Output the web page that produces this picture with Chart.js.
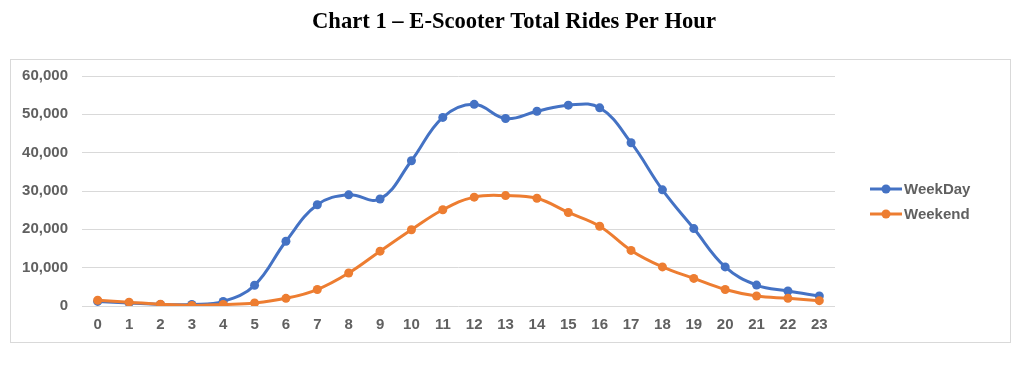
<!DOCTYPE html>
<html>
<head>
<meta charset="utf-8">
<script src="https://cdn.jsdelivr.net/npm/chart.js@4.4.0/dist/chart.umd.min.js"></script>
<style>
  html, body { margin: 0; padding: 0; background: #ffffff; }
  #wrap { position: relative; width: 1024px; height: 368px; }
</style>
</head>
<body>
<div id="wrap"><canvas id="c" width="1024" height="368"></canvas></div>
<script>
const chartTitle = "Chart 1 \u2013 E-Scooter Total Rides Per Hour";
const hours = ["0","1","2","3","4","5","6","7","8","9","10","11","12","13","14","15","16","17","18","19","20","21","22","23"];
const weekDay = [1200, 800, 400, 400, 1200, 5400, 16900, 26400, 29000, 27900, 37900, 49200, 52600, 48900, 50800, 52400, 51700, 42600, 30300, 20200, 10200, 5450, 3900, 2600];
const weekend = [1500, 1000, 450, 150, 400, 800, 2000, 4300, 8600, 14300, 19900, 25100, 28400, 28800, 28100, 24400, 20800, 14500, 10200, 7200, 4300, 2600, 2000, 1400];
const seriesNames = ["WeekDay", "Weekend"];
const seriesColors = ["#4472C4", "#ED7D31"];

const labelFont = { family: "'Liberation Sans', Arial, sans-serif", size: 15, weight: "bold" };
const labelColor = "#606060";

const frameAndTitle = {
  id: "frameAndTitle",
  beforeDraw(chart) {
    const ctx = chart.ctx;
    ctx.save();
    ctx.fillStyle = "#ffffff";
    ctx.fillRect(0, 0, chart.width, chart.height);
    ctx.strokeStyle = "#d9d9d9";
    ctx.lineWidth = 1;
    ctx.strokeRect(10.5, 59.5, 1000, 283);
    ctx.fillStyle = "#000000";
    ctx.font = "bold 22.6px 'Liberation Serif', 'Times New Roman', serif";
    ctx.textAlign = "center";
    ctx.textBaseline = "alphabetic";
    ctx.fillText(chartTitle, 514, 28);
    ctx.restore();
  },
  afterDraw(chart) {
    const ctx = chart.ctx;
    ctx.save();
    const ys = [189, 214];
    chart.data.datasets.forEach((ds, i) => {
      const y = ys[i];
      ctx.strokeStyle = ds.borderColor;
      ctx.lineWidth = 3;
      ctx.beginPath();
      ctx.moveTo(870, y);
      ctx.lineTo(902, y);
      ctx.stroke();
      ctx.fillStyle = ds.borderColor;
      ctx.beginPath();
      ctx.arc(886, y, 4.5, 0, Math.PI * 2);
      ctx.fill();
      ctx.fillStyle = labelColor;
      ctx.font = "bold 15px 'Liberation Sans', Arial, sans-serif";
      ctx.textAlign = "left";
      ctx.textBaseline = "middle";
      ctx.fillText(ds.label, 904, y + 1);
    });
    ctx.restore();
  }
};

new Chart(document.getElementById("c"), {
  type: "line",
  data: {
    labels: hours,
    datasets: [
      { label: seriesNames[0], data: weekDay, borderColor: seriesColors[0], backgroundColor: seriesColors[0],
        borderWidth: 3, pointRadius: 4.5, pointBorderWidth: 0, tension: 0.4, order: 1 },
      { label: seriesNames[1], data: weekend, borderColor: seriesColors[1], backgroundColor: seriesColors[1],
        borderWidth: 3, pointRadius: 4.5, pointBorderWidth: 0, tension: 0.4, order: 0 }
    ]
  },
  options: {
    responsive: false,
    animation: false,
    devicePixelRatio: 1,
    layout: { padding: { left: 10, right: 189, top: 76, bottom: 25 } },
    plugins: {
      legend: { display: false },
      title: { display: false },
      tooltip: { enabled: false }
    },
    scales: {
      x: {
        offset: true,
        grid: { display: false, drawTicks: false },
        border: { display: false },
        ticks: { color: labelColor, font: labelFont, padding: 10, maxRotation: 0, autoSkip: false },
        afterFit(scale) { scale.height = 37; }
      },
      y: {
        min: 0, max: 60000,
        grid: { color: "#d9d9d9", lineWidth: 1, drawTicks: false },
        border: { display: false },
        ticks: { stepSize: 10000, color: labelColor, font: labelFont, padding: 14,
          callback: (v) => v.toLocaleString("en-US") },
        afterFit(scale) { scale.width = 72; }
      }
    }
  },
  plugins: [frameAndTitle]
});
</script>
</body>
</html>
